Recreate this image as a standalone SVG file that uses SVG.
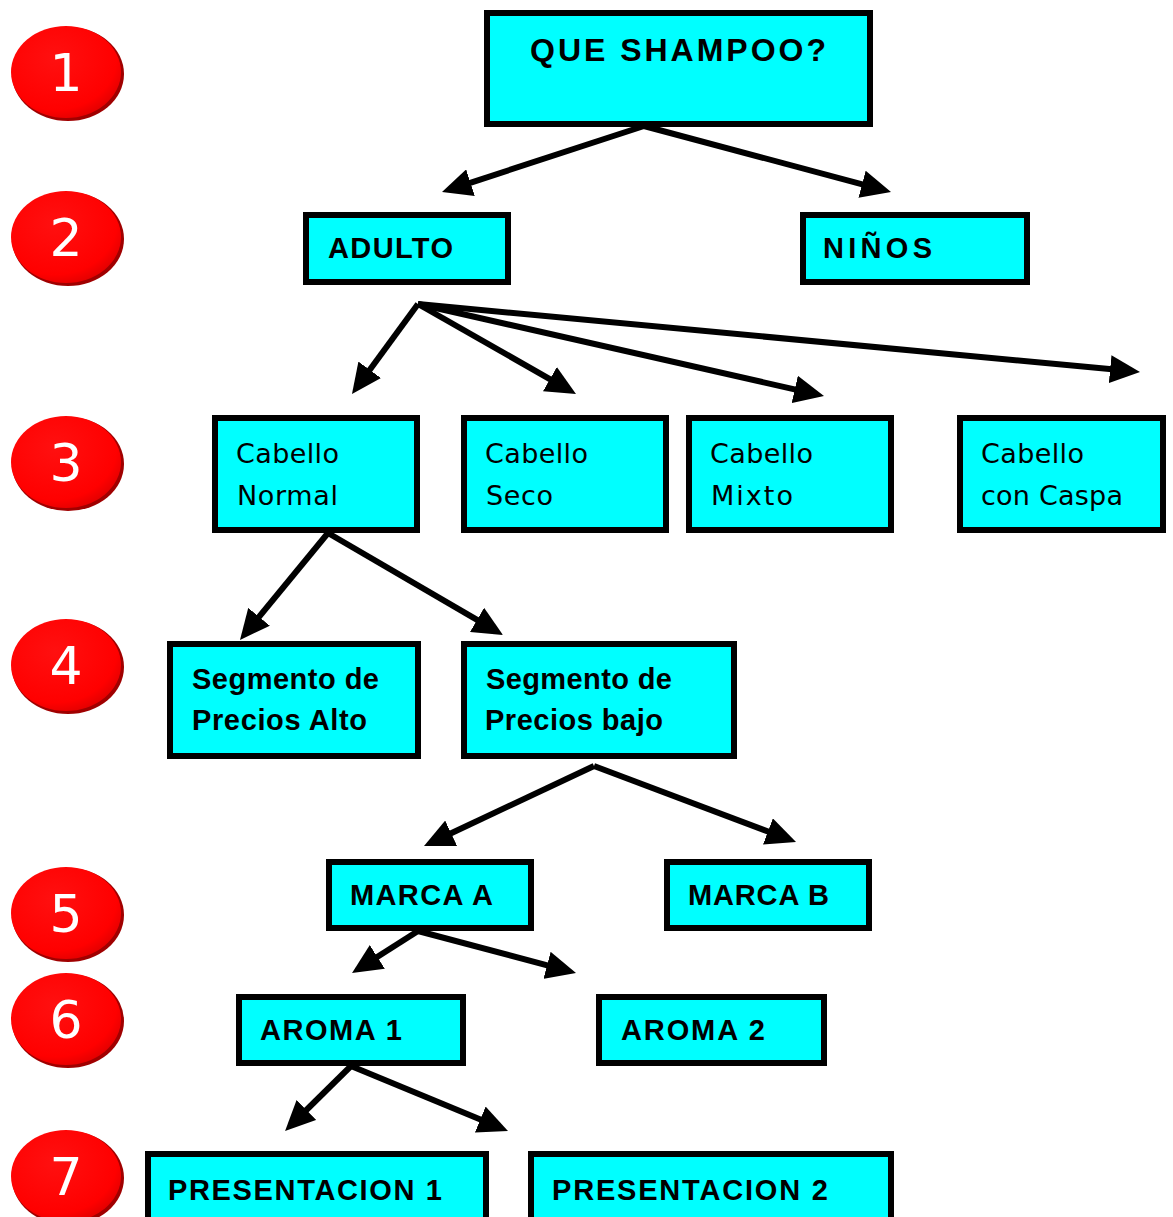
<svg xmlns="http://www.w3.org/2000/svg" width="1173" height="1217" viewBox="0 0 1173 1217">
<defs>
<radialGradient id="rg" cx="0.4" cy="0.35" r="0.7">
<stop offset="0" stop-color="#ff1010"/>
<stop offset="0.8" stop-color="#ff0000"/>
<stop offset="1" stop-color="#e00000"/>
</radialGradient>
<marker id="ah" viewBox="0 0 30 28" refX="10" refY="14" markerWidth="30" markerHeight="28" markerUnits="userSpaceOnUse" orient="auto">
<path d="M0,0 L30,14 L0,28 z" fill="#000"/>
</marker>
</defs>
<style>
.box{fill:#00ffff;stroke:#000;stroke-width:6}
.t{font-family:"Liberation Sans","DejaVu Sans",sans-serif;font-size:29px;fill:#000;font-weight:bold}
.n{font-family:"DejaVu Sans","Liberation Sans",sans-serif;font-size:27px;fill:#000;font-weight:normal}
.conn line{stroke:#000;stroke-width:6;marker-end:url(#ah)}
.num{font-family:"DejaVu Sans","Liberation Sans",sans-serif;font-size:52px;font-weight:normal;fill:#fff;text-anchor:middle}
.sh{fill:#a00000}
.c{fill:url(#rg)}
</style>
<rect width="1173" height="1217" fill="#fff"/>
<g id="steps">
<g id="step1"><ellipse class="sh" cx="68" cy="74" rx="56" ry="47"/><ellipse class="c" cx="66" cy="72" rx="55" ry="46"/><text class="num" x="66" y="91">1</text></g>
<g id="step2"><ellipse class="sh" cx="68" cy="239" rx="56" ry="47"/><ellipse class="c" cx="66" cy="237" rx="55" ry="46"/><text class="num" x="66" y="256">2</text></g>
<g id="step3"><ellipse class="sh" cx="68" cy="464" rx="56" ry="47"/><ellipse class="c" cx="66" cy="462" rx="55" ry="46"/><text class="num" x="66" y="481">3</text></g>
<g id="step4"><ellipse class="sh" cx="68" cy="667" rx="56" ry="47"/><ellipse class="c" cx="66" cy="665" rx="55" ry="46"/><text class="num" x="66" y="684">4</text></g>
<g id="step5"><ellipse class="sh" cx="68" cy="915" rx="56" ry="47"/><ellipse class="c" cx="66" cy="913" rx="55" ry="46"/><text class="num" x="66" y="932">5</text></g>
<g id="step6"><ellipse class="sh" cx="68" cy="1021" rx="56" ry="47"/><ellipse class="c" cx="66" cy="1019" rx="55" ry="46"/><text class="num" x="66" y="1038">6</text></g>
<g id="step7"><ellipse class="sh" cx="68" cy="1178" rx="56" ry="47"/><ellipse class="c" cx="66" cy="1176" rx="55" ry="46"/><text class="num" x="66" y="1195">7</text></g>
</g>
<g id="connectors" class="conn">
<line x1="644" y1="126" x2="461" y2="185.8"/>
<line x1="644" y1="126" x2="871.7" y2="186.8"/>
<line x1="418" y1="304" x2="363.8" y2="377.9"/>
<line x1="418" y1="304" x2="558.6" y2="384.1"/>
<line x1="418" y1="304" x2="804.5" y2="391.6"/>
<line x1="418" y1="304" x2="1120.1" y2="370.1"/>
<line x1="328" y1="533" x2="252.7" y2="624.5"/>
<line x1="328" y1="533" x2="485.7" y2="624.9"/>
<line x1="594" y1="766" x2="442.1" y2="837.5"/>
<line x1="594" y1="766" x2="777.3" y2="835"/>
<line x1="418" y1="931" x2="368.9" y2="962.3"/>
<line x1="418" y1="931" x2="556.7" y2="967.9"/>
<line x1="351" y1="1066" x2="299.3" y2="1117"/>
<line x1="351" y1="1066" x2="489.5" y2="1123.3"/>
</g>
<g id="n-que"><rect class="box" x="487" y="13" width="383" height="111"/><text class="t" x="530" y="61" style="font-size:32px" textLength="296">QUE  SHAMPOO?</text></g>
<g id="n-adulto"><rect class="box" x="306" y="215" width="202" height="67"/><text class="t" x="328" y="258" textLength="125">ADULTO</text></g>
<g id="n-ninos"><rect class="box" x="803" y="215" width="224" height="67"/><text class="t" x="823" y="258" textLength="109">NIÑOS</text></g>
<g id="n-normal"><rect class="box" x="215" y="418" width="202" height="112"/><text class="n" x="236" y="463" textLength="103">Cabello</text><text class="n" x="237" y="505" textLength="101">Normal</text></g>
<g id="n-seco"><rect class="box" x="464" y="418" width="202" height="112"/><text class="n" x="485" y="463" textLength="103">Cabello</text><text class="n" x="486" y="505" textLength="67">Seco</text></g>
<g id="n-mixto"><rect class="box" x="689" y="418" width="202" height="112"/><text class="n" x="710" y="463" textLength="103">Cabello</text><text class="n" x="711" y="505" textLength="82">Mixto</text></g>
<g id="n-caspa"><rect class="box" x="960" y="418" width="203" height="112"/><text class="n" x="981" y="463" textLength="103">Cabello</text><text class="n" x="981" y="505" textLength="142">con Caspa</text></g>
<g id="n-alto"><rect class="box" x="170" y="644" width="248" height="112"/><text class="t" x="192" y="689" textLength="187">Segmento de</text><text class="t" x="192" y="730" textLength="175">Precios Alto</text></g>
<g id="n-bajo"><rect class="box" x="464" y="644" width="270" height="112"/><text class="t" x="486" y="689" textLength="186">Segmento de</text><text class="t" x="485" y="730" textLength="178">Precios bajo</text></g>
<g id="n-marca-a"><rect class="box" x="329" y="862" width="202" height="66"/><text class="t" x="350" y="905" textLength="143">MARCA A</text></g>
<g id="n-marca-b"><rect class="box" x="667" y="862" width="202" height="66"/><text class="t" x="688" y="905" textLength="141">MARCA B</text></g>
<g id="n-aroma1"><rect class="box" x="239" y="997" width="224" height="66"/><text class="t" x="260" y="1040" textLength="142">AROMA 1</text></g>
<g id="n-aroma2"><rect class="box" x="599" y="997" width="225" height="66"/><text class="t" x="621" y="1040" textLength="144">AROMA 2</text></g>
<g id="n-pres1"><rect class="box" x="148" y="1154" width="338" height="70"/><text class="t" x="168" y="1200" textLength="274">PRESENTACION 1</text></g>
<g id="n-pres2"><rect class="box" x="531" y="1154" width="360" height="70"/><text class="t" x="552" y="1200" textLength="276">PRESENTACION 2</text></g>
</svg>
